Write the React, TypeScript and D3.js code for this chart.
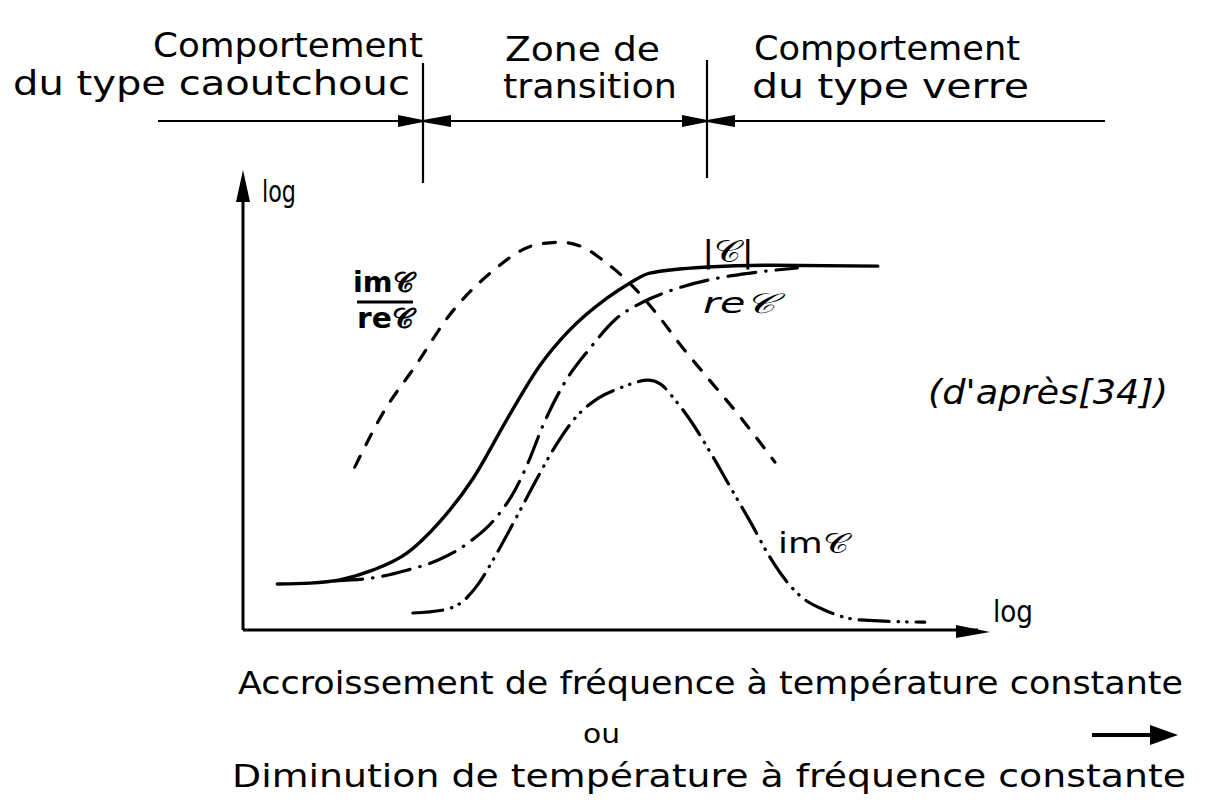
import React from "react";
import * as d3 from "d3";

// |C| (solid)
const modX = [4.6, 9.0, 13.0, 17.4, 22.0, 26.4, 30.9, 35.4, 39.9, 43.6, 48.9, 51.9, 54.6, 62.3, 71.1, 85.2];
const modY = [10.0, 10.2, 10.9, 13.0, 16.7, 23.5, 33.0, 45.7, 57.6, 64.8, 72.2, 75.4, 77.6, 78.9, 79.3, 79.1];
// imC / reC (dashed)
const ratioX = [15.0, 18.8, 23.4, 27.5, 33.2, 39.2, 42.6, 45.9, 48.3, 51.9, 56.0, 58.7, 61.7, 66.3, 71.4];
const ratioY = [35.4, 47.2, 58.0, 68.0, 77.6, 83.7, 84.3, 83.0, 80.4, 75.4, 67.8, 62.0, 56.1, 47.2, 36.5];
// reC (dash-dot)
const reX = [12.3, 17.3, 22.0, 26.2, 30.2, 33.8, 36.5, 38.3, 40.3, 43.0, 46.6, 49.9, 53.7, 57.6, 63.1, 68.1, 74.4];
const reY = [10.7, 11.3, 13.0, 15.2, 18.9, 24.1, 30.4, 36.5, 44.6, 53.3, 61.3, 67.4, 71.3, 73.9, 76.3, 77.6, 78.7];
// imC (dash-dot-dot)
const imX = [22.8, 26.7, 29.4, 31.5, 33.8, 36.5, 38.8, 41.6, 44.6, 47.7, 50.6, 54.4, 56.0, 58.0, 60.0, 62.7, 65.4, 68.1, 70.7, 72.8, 74.8, 78.1, 82.8, 91.5];
const imY = [3.7, 4.3, 6.1, 9.8, 15.9, 23.9, 30.9, 39.1, 46.1, 50.4, 52.6, 54.3, 53.5, 50.0, 45.7, 38.7, 31.1, 23.5, 15.9, 10.9, 7.4, 4.3, 2.2, 1.7];

// zone boundaries (pixel x of the top band separators)
const zoneBounds = [423, 707];
const zoneLabels = [
  { lines: ["Comportement", "du type caoutchouc"] },
  { lines: ["Zone de", "transition"] },
  { lines: ["Comportement", "du type verre"] },
];

const C = "\u{1D49E}";

const xScale = d3.scaleLinear().domain([0, 100]).range([243, 988]);
const yScale = d3.scaleLinear().domain([0, 100]).range([630, 170]);

const line = d3
  .line<[number, number]>()
  .x((d) => xScale(d[0]))
  .y((d) => yScale(d[1]))
  .curve(d3.curveMonotoneX);

const zip = (xs: number[], ys: number[]) => xs.map((x, i) => [x, ys[i]] as [number, number]);

const FONT = "'DejaVu Sans', 'Noto Sans', sans-serif";

export default function App() {
  const stroke = "#000";
  const bandY = 121;
  return (
    <svg width={1212} height={811} style={{ display: "block", position: "absolute", left: 0, top: 0, background: "#fff" }}>
      <rect width={1212} height={811} fill="#fff" />
      {/* top band */}
      <line x1={158} y1={bandY} x2={1105} y2={bandY} stroke={stroke} strokeWidth={2.2} />
      <line x1={zoneBounds[0]} y1={63} x2={zoneBounds[0]} y2={183} stroke={stroke} strokeWidth={2.2} />
      <line x1={zoneBounds[1]} y1={60} x2={zoneBounds[1]} y2={178} stroke={stroke} strokeWidth={2.2} />
      {zoneBounds.map((b, i) => (
        <g key={i}>
          <path d={`M${b - 25},${bandY - 6} L${b},${bandY - 1} L${b},${bandY + 1} L${b - 25},${bandY + 6} Z`} fill={stroke} />
          <path d={`M${b + 28},${bandY - 6} L${b},${bandY - 1} L${b},${bandY + 1} L${b + 28},${bandY + 6} Z`} fill={stroke} />
        </g>
      ))}
      <g fontFamily={FONT} fill={stroke}>
        <text x={153} y={57} fontSize={33} textLength={270} lengthAdjust="spacingAndGlyphs">{zoneLabels[0].lines[0]}</text>
        <text x={13} y={95} fontSize={33} textLength={397} lengthAdjust="spacingAndGlyphs">{zoneLabels[0].lines[1]}</text>
        <text x={505} y={61} fontSize={33} textLength={155} lengthAdjust="spacingAndGlyphs">{zoneLabels[1].lines[0]}</text>
        <text x={503} y={98} fontSize={33} textLength={174} lengthAdjust="spacingAndGlyphs">{zoneLabels[1].lines[1]}</text>
        <text x={754} y={60} fontSize={33} textLength={266} lengthAdjust="spacingAndGlyphs">{zoneLabels[2].lines[0]}</text>
        <text x={752} y={98} fontSize={33} textLength={277} lengthAdjust="spacingAndGlyphs">{zoneLabels[2].lines[1]}</text>
      </g>

      {/* axes */}
      <line x1={xScale(0)} y1={yScale(0)} x2={xScale(0)} y2={yScale(100) + 10} stroke={stroke} strokeWidth={3} />
      <path d={`M${xScale(0)},${yScale(100)} L${xScale(0) - 7},${yScale(100) + 32} L${xScale(0) + 7},${yScale(100) + 32} Z`} fill={stroke} />
      <line x1={xScale(0)} y1={yScale(0)} x2={xScale(100) - 10} y2={yScale(0)} stroke={stroke} strokeWidth={3} />
      <path d={`M${xScale(100) + 2},${yScale(0) + 2} L${xScale(100) - 32},${yScale(0) - 5} L${xScale(100) - 32},${yScale(0) + 8} Z`} fill={stroke} />
      <g fontFamily={FONT} fill={stroke}>
        <text x={262} y={202} fontSize={30} textLength={34} lengthAdjust="spacingAndGlyphs">log</text>
        <text x={993} y={622} fontSize={30} textLength={40} lengthAdjust="spacingAndGlyphs">log</text>
      </g>

      {/* curves */}
      <path d={line(zip(modX, modY)) || ""} fill="none" stroke={stroke} strokeWidth={3.4} strokeLinecap="round" />
      <path d={line(zip(ratioX, ratioY)) || ""} fill="none" stroke={stroke} strokeWidth={3.2} strokeDasharray="12,13" strokeLinecap="round" />
      <path d={line(zip(reX, reY)) || ""} fill="none" stroke={stroke} strokeWidth={3.2} strokeDasharray="28,10,0.5,10" strokeLinecap="round" />
      <path d={line(zip(imX, imY)) || ""} fill="none" stroke={stroke} strokeWidth={3.2} strokeDasharray="30,9,0.5,8,0.5,9" strokeLinecap="round" />

      {/* curve labels */}
      <g fontFamily={FONT} fill={stroke}>
        <text x={353} y={292} fontSize={28} fontWeight="bold" textLength={60} lengthAdjust="spacingAndGlyphs">{"im" + C}</text>
        <line x1={357} y1={302} x2={413} y2={302} stroke={stroke} strokeWidth={3} />
        <text x={357} y={328} fontSize={28} fontWeight="bold" textLength={56} lengthAdjust="spacingAndGlyphs">{"re" + C}</text>
        <text x={702} y={262} fontSize={30} textLength={52} lengthAdjust="spacingAndGlyphs">{"|" + C + "|"}</text>
        <text x={703} y={313} fontSize={28} fontStyle="italic" textLength={72} lengthAdjust="spacingAndGlyphs">{"re" + C}</text>
        <text x={778} y={553} fontSize={28} textLength={70} lengthAdjust="spacingAndGlyphs">{"im" + C}</text>
        <text x={928} y={404} fontSize={34} fontStyle="italic" textLength={240} lengthAdjust="spacingAndGlyphs">(d'après[34])</text>
      </g>

      {/* bottom caption */}
      <g fontFamily={FONT} fill={stroke}>
        <text x={238} y={694} fontSize={32} textLength={945} lengthAdjust="spacingAndGlyphs">Accroissement de fréquence à température constante</text>
        <text x={583} y={743} fontSize={26} textLength={37} lengthAdjust="spacingAndGlyphs">ou</text>
        <text x={232} y={787} fontSize={32} textLength={954} lengthAdjust="spacingAndGlyphs">Diminution de température à fréquence constante</text>
      </g>
      <line x1={1092} y1={735} x2={1160} y2={735} stroke={stroke} strokeWidth={4} />
      <path d="M1178,735 L1150,725 L1150,745 Z" fill={stroke} />
    </svg>
  );
}
